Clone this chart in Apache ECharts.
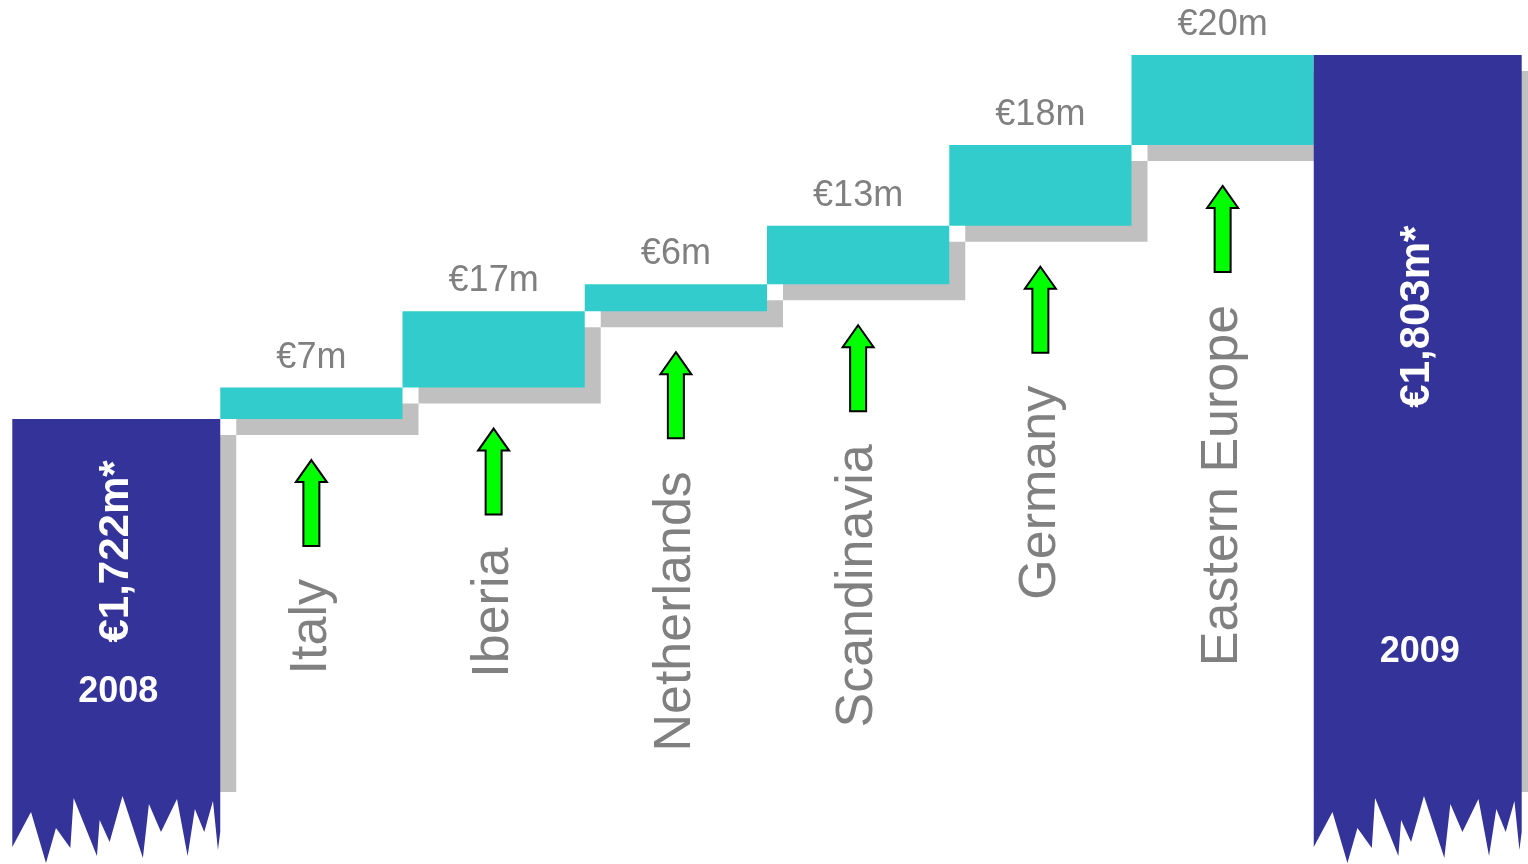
<!DOCTYPE html>
<html>
<head>
<meta charset="utf-8">
<script src="https://cdn.jsdelivr.net/npm/echarts@6/dist/echarts.min.js"></script>
<style>
  html, body { margin: 0; padding: 0; background: #ffffff; }
  #chart { width: 1528px; height: 864px; }
</style>
</head>
<body>
<div id="chart"></div>
<script>
// Revenue bridge 2008 -> 2009 (€m)
const years = ['2008', '2009'];
const yearTotals = [1722, 1803];
const regions = ['Italy', 'Iberia', 'Netherlands', 'Scandinavia', 'Germany', 'Eastern Europe'];
const regionGains = [7, 17, 6, 13, 18, 20];

// Broken value axis: the total bars are cut off at the bottom edge
const AXIS_MIN = 1623;
const AXIS_MAX = 1803;

// Styling
const NAVY = '#333399';
const TEAL = '#33CCCC';
const SHADOW = '#C0C0C0';
const LABEL_GREY = '#808080';
const ARROW_GREEN = '#00FF00';
const FONT = "'Liberation Sans', Arial, Helvetica, sans-serif";
const SHADOW_OFFSET = 16;
const TOTAL_EXTRA = 0.141;       // total bars are wider than a step bar
// Torn lower edge of the total bars: [fraction across bar, px above the bottom]
const TORN_EDGE = [
  [0, 17], [0.090, 52], [0.162, 1], [0.210, 36], [0.279, 16], [0.295, 66],
  [0.407, 8], [0.420, 44], [0.468, 22], [0.530, 68], [0.628, 6], [0.657, 60],
  [0.715, 32], [0.792, 65], [0.843, 8], [0.878, 55], [0.923, 32], [0.965, 63],
  [0.989, 14], [1, 32]
];

// Build the bridge rows: [categoryIndex, low, high, isTotal]
const categories = [years[0], ...regions, years[1]];
const rows = [];
rows.push([0, AXIS_MIN, yearTotals[0], 1]);
let running = yearTotals[0];
regionGains.forEach((g, k) => {
  rows.push([k + 1, running, running + g, 0]);
  running += g;
});
rows.push([categories.length - 1, AXIS_MIN, yearTotals[1], 1]);

function fmtTotal(v) { return '€' + v.toLocaleString('en-US') + 'm*'; }
function fmtGain(v) { return '€' + v + 'm'; }

function renderItem(params, api) {
  const i = api.value(0);
  const low = api.value(1);
  const high = api.value(2);
  const isTotal = api.value(3) === 1;
  const band = api.size([1, 0])[0];
  const top = api.coord([i, high]);
  const cx = top[0];
  const yHigh = top[1];
  const yLow = api.coord([i, low])[1];
  const children = [];

  if (isTotal) {
    const extra = band * TOTAL_EXTRA;
    const first = i === 0;
    const x0 = cx - band / 2 - (first ? extra : 0);
    const x1 = cx + band / 2 + (first ? 0 : extra);
    const w = x1 - x0;
    const shadowBottom = yLow - 72;
    children.push({
      type: 'rect',
      shape: { x: x0 + SHADOW_OFFSET, y: yHigh + SHADOW_OFFSET, width: w, height: shadowBottom - yHigh - SHADOW_OFFSET },
      style: { fill: SHADOW }
    });
    const pts = [[x0, yHigh], [x1, yHigh]];
    for (let k = TORN_EDGE.length - 1; k >= 0; k--) {
      pts.push([x0 + TORN_EDGE[k][0] * w, yLow - TORN_EDGE[k][1]]);
    }
    children.push({ type: 'polygon', shape: { points: pts }, style: { fill: NAVY } });
    const mid = (x0 + x1) / 2;
    const h = shadowBottom - yHigh;
    // total value, rotated, in the upper part of the bar
    children.push({
      type: 'text', x: mid, y: yHigh + 0.355 * h, rotation: Math.PI / 2,
      style: {
        text: fmtTotal(high), fill: '#ffffff', fontFamily: FONT, fontWeight: 'bold',
        fontSize: 42, align: 'center', verticalAlign: 'middle'
      }
    });
    // year, a little above the torn edge (higher on taller bars)
    children.push({
      type: 'text', x: mid + 2, y: shadowBottom - 0.11 * h - 59,
      style: {
        text: categories[i], fill: '#ffffff', fontFamily: FONT, fontWeight: 'bold',
        fontSize: 36, align: 'center', verticalAlign: 'middle'
      }
    });
  } else {
    const x0 = cx - band / 2;
    children.push({
      type: 'rect',
      shape: { x: x0 + SHADOW_OFFSET, y: yHigh + SHADOW_OFFSET, width: band, height: yLow - yHigh },
      style: { fill: SHADOW }
    });
    children.push({
      type: 'rect',
      shape: { x: x0, y: yHigh, width: band, height: yLow - yHigh },
      style: { fill: TEAL }
    });
    // value above the step
    children.push({
      type: 'text', x: cx, y: yHigh - 12,
      style: {
        text: fmtGain(high - low), fill: LABEL_GREY, fontFamily: FONT,
        fontSize: 36, align: 'center', verticalAlign: 'bottom'
      }
    });
    // up arrow under the step
    const t = yLow + 41;
    children.push({
      type: 'polygon',
      shape: {
        points: [
          [cx, t], [cx + 15.5, t + 22], [cx + 8, t + 22], [cx + 8, t + 86],
          [cx - 8, t + 86], [cx - 8, t + 22], [cx - 15.5, t + 22]
        ]
      },
      style: { fill: ARROW_GREEN, stroke: '#000000', lineWidth: 2, lineJoin: 'miter' }
    });
    // rotated region name
    children.push({
      type: 'text', x: cx, y: yLow + 160, rotation: Math.PI / 2,
      style: {
        text: categories[i], fill: LABEL_GREY, fontFamily: FONT,
        fontSize: 52, align: 'right', verticalAlign: 'middle'
      }
    });
  }
  return { type: 'group', children: children };
}

const chart = echarts.init(document.getElementById('chart'), null, { renderer: 'canvas' });
chart.setOption({
  backgroundColor: '#ffffff',
  animation: false,
  grid: { left: 38, right: 32, top: 55, bottom: 0 },
  xAxis: {
    type: 'category',
    data: categories,
    show: false
  },
  yAxis: {
    type: 'value',
    min: AXIS_MIN,
    max: AXIS_MAX,
    show: false
  },
  series: [{
    type: 'custom',
    renderItem: renderItem,
    clip: false,
    encode: { x: 0, y: [1, 2] },
    data: rows
  }]
});
</script>
</body>
</html>
